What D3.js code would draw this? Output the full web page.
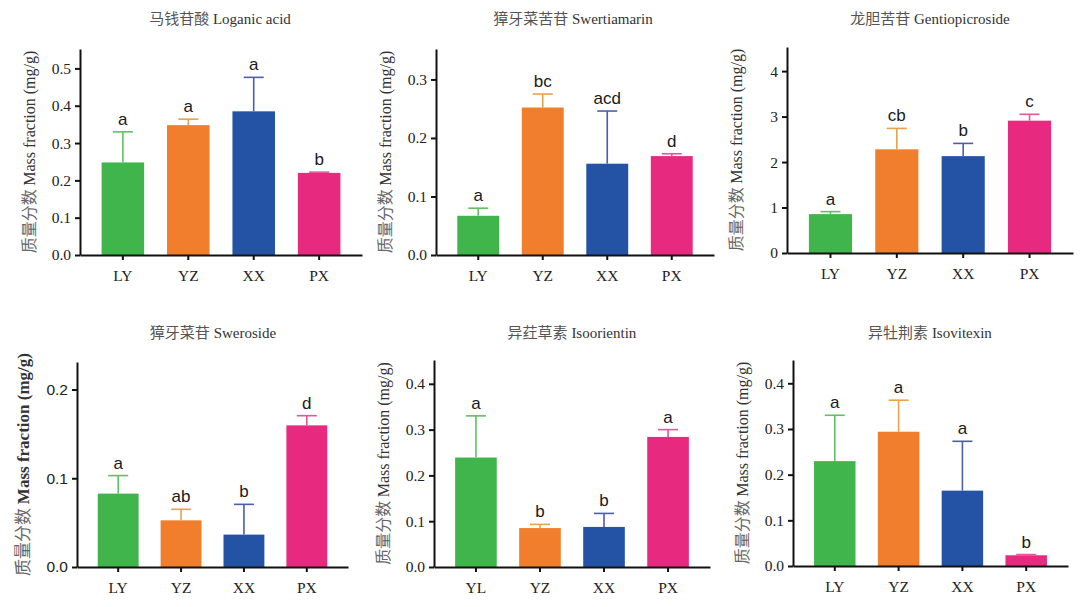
<!DOCTYPE html>
<html><head><meta charset="utf-8">
<script src="https://cdn.jsdelivr.net/npm/d3@7"></script>
<style>
html,body{margin:0;padding:0;background:#fff;}
svg{display:block;}
</style></head>
<body>
<svg id="chart" width="1088" height="607"></svg>
<script>
// ---------------- DATA ----------------
const titlesCN = ["马钱苷酸", "獐牙菜苦苷", "龙胆苦苷", "獐牙菜苷", "异荭草素", "异牡荆素"];
const titlesEN = ["Loganic acid", "Swertiamarin", "Gentiopicroside", "Sweroside", "Isoorientin", "Isovitexin"];
const categories = ["LY", "YZ", "XX", "PX"];
const categoriesIsoorientin = ["YL", "YZ", "XX", "PX"];

const loganicMean = [0.248, 0.348, 0.385, 0.220];
const loganicErr  = [0.082, 0.016, 0.091, 0.002];
const loganicSig  = ["a", "a", "a", "b"];

const swertiamarinMean = [0.067, 0.252, 0.156, 0.169];
const swertiamarinErr  = [0.013, 0.023, 0.090, 0.004];
const swertiamarinSig  = ["a", "bc", "acd", "d"];

const gentioMean = [0.855, 2.28, 2.13, 2.91];
const gentioErr  = [0.055, 0.46, 0.28, 0.14];
const gentioSig  = ["a", "cb", "b", "c"];

const swerosideMean = [0.0827, 0.0526, 0.0365, 0.1596];
const swerosideErr  = [0.0203, 0.0124, 0.0341, 0.0109];
const swerosideSig  = ["a", "ab", "b", "d"];

const isoorientinMean = [0.239, 0.085, 0.0875, 0.284];
const isoorientinErr  = [0.091, 0.008, 0.0295, 0.016];
const isoorientinSig  = ["a", "b", "b", "a"];

const isovitexinMean = [0.2296, 0.294, 0.165, 0.0235];
const isovitexinErr  = [0.1004, 0.069, 0.108, 0.0015];
const isovitexinSig  = ["a", "a", "a", "b"];

const yMaxes = [0.552, 0.352, 4.53, 0.231, 0.452, 0.451];
const yTicks = [
  [0, 0.1, 0.2, 0.3, 0.4, 0.5],
  [0, 0.1, 0.2, 0.3],
  [0, 1, 2, 3, 4],
  [0, 0.1, 0.2],
  [0, 0.1, 0.2, 0.3, 0.4],
  [0, 0.1, 0.2, 0.3, 0.4]
];
const tickFormats = [".1f", ".1f", "d", ".1f", ".1f", ".1f"];
const yLabelCN = "质量分数";
const yLabelEN = "Mass fraction (mg/g)";

const barColors = ["#3fb54b", "#f07e2d", "#2453a5", "#e72a7f"];
const errColors = ["#62c064", "#e9a24a", "#4d5db3", "#e2569b"];

// ---------------- LAYOUT ----------------
const layout = [
  {x0: 80,  x1: 362,  yTop: 49,  yBot: 255, tx: 220, ty: 24},
  {x0: 436, x1: 714,  yTop: 49,  yBot: 255, tx: 573, ty: 24},
  {x0: 787, x1: 1073, yTop: 47,  yBot: 253, tx: 930, ty: 24},
  {x0: 77,  x1: 348,  yTop: 362, yBot: 567, tx: 213, ty: 338},
  {x0: 434, x1: 710,  yTop: 360, yBot: 567, tx: 572, ty: 338},
  {x0: 793, x1: 1068, yTop: 360, yBot: 566, tx: 930, ty: 338}
];

const panels = [
  {cats: categories, mean: loganicMean, err: loganicErr, sig: loganicSig},
  {cats: categories, mean: swertiamarinMean, err: swertiamarinErr, sig: swertiamarinSig},
  {cats: categories, mean: gentioMean, err: gentioErr, sig: gentioSig},
  {cats: categories, mean: swerosideMean, err: swerosideErr, sig: swerosideSig, sans: true},
  {cats: categoriesIsoorientin, mean: isoorientinMean, err: isoorientinErr, sig: isoorientinSig},
  {cats: categories, mean: isovitexinMean, err: isovitexinErr, sig: isovitexinSig}
];

const svg = d3.select("#chart");
const serif = "'Liberation Serif','Times New Roman',serif";
const sans = "'Liberation Sans',Arial,sans-serif";

panels.forEach((p, i) => {
  const L = layout[i];
  const g = svg.append("g");
  const x = d3.scaleBand().domain(p.cats).range([L.x0, L.x1]).paddingInner(0.35).paddingOuter(0.33);
  const y = d3.scaleLinear().domain([0, yMaxes[i]]).range([L.yBot, L.yTop]);
  const rows = p.cats.map((c, j) => ({c, m: p.mean[j], e: p.err[j], s: p.sig[j], j}));

  // bars
  g.selectAll("rect.bar").data(rows).join("rect")
    .attr("class", "bar")
    .attr("x", d => x(d.c)).attr("width", x.bandwidth())
    .attr("y", d => y(d.m)).attr("height", d => y(0) - y(d.m))
    .attr("fill", d => barColors[d.j]);

  // error bars (upper only)
  const cw = 10;
  g.selectAll("line.ev").data(rows).join("line")
    .attr("x1", d => x(d.c) + x.bandwidth() / 2).attr("x2", d => x(d.c) + x.bandwidth() / 2)
    .attr("y1", d => y(d.m)).attr("y2", d => y(d.m + d.e))
    .attr("stroke", d => errColors[d.j]).attr("stroke-width", 1.6);
  g.selectAll("line.ec").data(rows).join("line")
    .attr("x1", d => x(d.c) + x.bandwidth() / 2 - cw).attr("x2", d => x(d.c) + x.bandwidth() / 2 + cw)
    .attr("y1", d => y(d.m + d.e)).attr("y2", d => y(d.m + d.e))
    .attr("stroke", d => errColors[d.j]).attr("stroke-width", 1.6);

  // significance letters
  g.selectAll("text.sig").data(rows).join("text")
    .attr("x", d => x(d.c) + x.bandwidth() / 2)
    .attr("y", d => y(d.m + d.e) - 7)
    .attr("text-anchor", "middle")
    .attr("font-family", sans).attr("font-size", 17).attr("fill", "#1a1a1a")
    .text(d => d.s);

  // axes
  const yAxis = d3.axisLeft(y).tickValues(yTicks[i]).tickFormat(d3.format(tickFormats[i])).tickSize(5).tickSizeOuter(0);
  const ya = g.append("g").attr("transform", `translate(${L.x0},0)`).call(yAxis);
  ya.selectAll("text").attr("font-family", p.sans ? sans : serif).attr("font-size", 15.5).attr("fill", "#222").attr("dx", "-1");
  const xAxis = d3.axisBottom(x).tickSize(5).tickSizeOuter(0);
  const xa = g.append("g").attr("transform", `translate(0,${L.yBot})`).call(xAxis);
  xa.selectAll("text").attr("font-family", serif).attr("font-size", 15.5).attr("fill", "#222").attr("dy", "1.15em");
  [ya, xa].forEach(a => {
    a.select(".domain").attr("stroke", "#111").attr("stroke-width", 2);
    a.selectAll(".tick line").attr("stroke", "#111").attr("stroke-width", 2);
  });

  // y label
  const ly = (L.yTop + L.yBot) / 2;
  const lx = L.x0 - (p.sans ? 48 : 45);
  const yl = g.append("text")
    .attr("transform", `translate(${lx},${ly}) rotate(-90)`)
    .attr("text-anchor", "middle")
    .attr("font-family", serif)
    .attr("font-size", p.sans ? 17 : 16)
    .attr("font-weight", p.sans ? "bold" : "normal");
  yl.append("tspan").attr("font-family", "'Noto Sans CJK SC'").attr("font-weight", "normal").attr("fill", "#666").text(yLabelCN + " ");
  yl.append("tspan").attr("fill", "#333").text(yLabelEN);

  // title
  const t = g.append("text").attr("x", L.tx).attr("y", L.ty).attr("text-anchor", "middle")
    .attr("font-family", serif).attr("font-size", 15).attr("fill", "#333");
  t.append("tspan").attr("font-family", "'Noto Sans CJK SC'").attr("fill", "#555").text(titlesCN[i]);
  t.append("tspan").text((i >= 4 ? " " : "  ") + titlesEN[i]);
});
</script>
</body></html>
